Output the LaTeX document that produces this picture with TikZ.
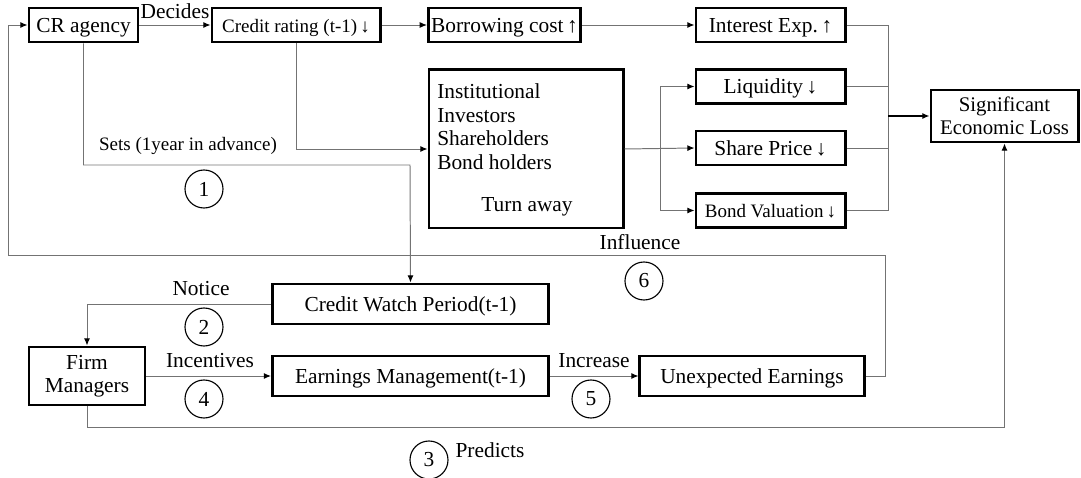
\documentclass[tikz,border=0pt]{standalone}
\usepackage{fontspec}
\setmainfont{Liberation Serif}
\usetikzlibrary{positioning, calc, arrows.meta}

\begin{document}
\begin{tikzpicture}[x=0.025cm,y=-0.025cm,
    txt/.style={font=\fontsize{15.2}{16.5}\selectfont},
    small/.style={font=\fontsize{13.5}{15}\selectfont},
    frame/.style={draw, line width=2.1pt, inner sep=2pt, txt},
    box/.style={frame, minimum height=0.85cm, text height=14pt, text depth=3.5pt},
    num/.style={draw, circle, minimum size=0.95cm, inner sep=0pt, line width=0.8pt, txt},
    wire/.style={draw=black!55, line width=0.7pt},
    link/.style={wire, -{Latex[length=1.8mm,width=1.5mm,color=black]}}]
      \useasboundingbox (0,0) rectangle (1081,478);
      \node[box, minimum width=2.725cm] (cra) at (83.5,25) {CR agency};
      \node[box, minimum width=4.2cm, small] (crr) at (296,25) {Credit rating (t-1)\,↓};
      \node[box, minimum width=3.775cm] (borrow) at (504.5,25) {Borrowing cost\,↑};
      \node[box, minimum width=3.725cm] (intexp) at (770.5,25) {Interest Exp.\,↑};
      \node[frame, minimum width=4.85cm, minimum height=3.95cm] (inst) at (526,149) {};
      \node[txt, anchor=north west, align=left, inner sep=0pt] (holders) at (437,83) {Institutional\\[0.5pt]Investors\\[0.5pt]Shareholders\\[0.5pt]Bond holders};
      \node[txt] (turn) at (527,207) {Turn away};
      \node[box, minimum width=3.725cm] (liq) at (770.5,86.5) {Liquidity\,↓};
      \node[box, minimum width=3.725cm] (share) at (770.5,148) {Share Price\,↓};
      \node[box, minimum width=3.725cm, small] (bondv) at (770.5,210.5) {Bond Valuation\,↓};
      \node[frame, minimum width=3.675cm, minimum height=1.3cm, align=center, font=\fontsize{14.8}{16}\selectfont] (sel) at (1004.5,116) {Significant\\Economic Loss};
      \node[box, minimum width=6.9cm, minimum height=1cm] (cwp) at (410.5,304) {Credit Watch Period(t-1)};
      \node[frame, minimum width=2.9cm, minimum height=1.45cm, align=center, font=\fontsize{15.2}{16}\selectfont] (firm) at (87,376) {Firm\\Managers};
      \node[box, minimum width=6.9cm, minimum height=1cm] (earn) at (410.5,376) {Earnings Management(t-1)};
      \node[box, minimum width=5.6cm, minimum height=1cm] (unexp) at (752,376) {Unexpected Earnings};
      \coordinate (jn) at (888,116);
      \coordinate (br) at (660,148);
      \coordinate (setc) at (410,165);
      \coordinate (fbl) at (8,255);
      \draw[link] (cra) -- (crr) node[txt, midway, above=1pt] {Decides};
      \draw[link] (crr) -- (borrow);
      \draw[link] (borrow) -- (intexp);
      \draw[wire] (intexp.east) -| (bondv.east -| jn) -- (bondv.east);
      \draw[wire] (liq.east) -- (liq.east -| jn);
      \draw[wire] (share.east) -- (share.east -| jn);
      \draw[link, draw=black, line width=0.9pt] (jn) -- (sel.west);
      \draw[link] (crr.south) |- (inst.west);
      \draw[link] (inst.east) -- (share.west);
      \draw[link] (br) |- (liq.west);
      \draw[link] (br) |- (bondv.west);
      \draw[link] (cra.south) |- (setc) -- (cwp.north);
      \node[small] (sets) at (188,146) {Sets (1year in advance)};
      \node[num] (n1) at (204,189) {1};
      \draw[link] (unexp.east) -- ++(20,0) |- (fbl) |- (cra.west);
      \node[txt] (infl) at (640,242) {Influence};
      \node[num] (n6) at (644,281) {6};
      \draw[link] (cwp.west) -| (firm.north);
      \node[txt] (notice) at (201,289) {Notice};
      \node[num] (n2) at (204,327) {2};
      \draw[link] (firm.east) -- (earn.west);
      \node[txt] (incent) at (210,361) {Incentives};
      \node[num] (n4) at (204,399) {4};
      \draw[link] (earn.east) -- (unexp.west);
      \node[txt] (incr) at (594,361) {Increase};
      \node[num] (n5) at (591,399) {5};
      \draw[link] (firm.south) -- ++(0,21) -| (sel.south);
      \node[txt] (pred) at (490,450) {Predicts};
      \node[num] (n3) at (429,460) {3};
    \end{tikzpicture}
\end{document}
